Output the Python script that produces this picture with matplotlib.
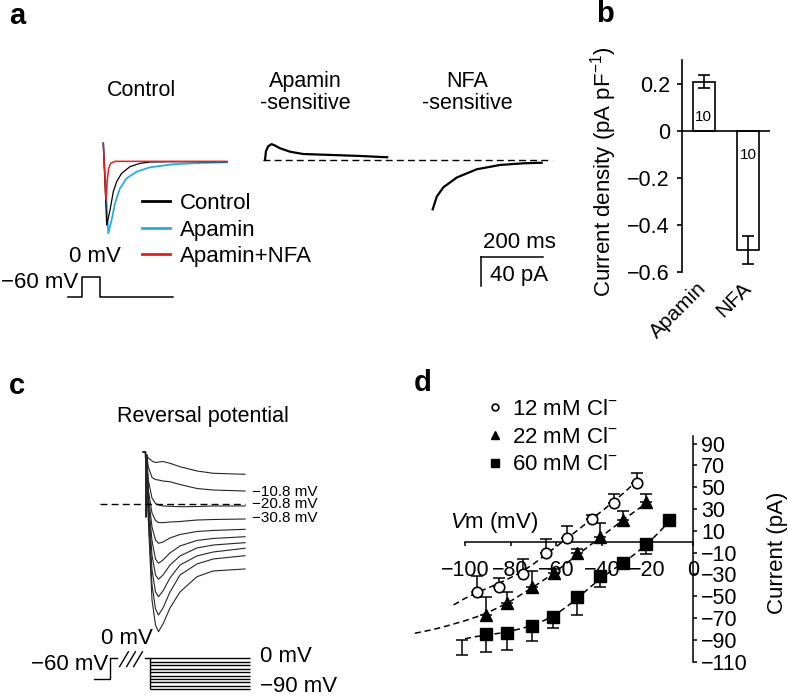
import matplotlib
matplotlib.use('Agg')
import matplotlib.pyplot as plt

W, H = 788, 699
plt.rcParams['font.family'] = ['Liberation Sans', 'DejaVu Sans']
plt.rcParams['mathtext.fontset'] = 'custom'
plt.rcParams['mathtext.rm'] = 'Liberation Sans'
plt.rcParams['mathtext.it'] = 'Liberation Sans:italic'
plt.rcParams['mathtext.bf'] = 'Liberation Sans:bold'

# ---------------- panel a : tail currents (ms, pA) ----------------
ctrl_t = [0, 10.9, 21.3, 31.9, 42.5, 58.4, 85, 117, 149, 222, 395]
ctrl_i = [25.6, -88, -67.6, -41.7, -27.8, -16.2, -6.9, -2.3, -0.4, 0, 0]
apa_t = [0, 16, 26.6, 37.2, 53.2, 74.5, 106.4, 149, 222, 308, 395]
apa_i = [25.6, -99.5, -81, -57.9, -37, -23, -13.9, -7.8, -3.6, -1.8, -0.8]
apanfa_t = [0, 8.6, 12.8, 17.2, 23.6, 37.3, 100, 395]
apanfa_i = [25.6, -53.2, -25.4, -9.2, -2.2, 0.5, 0.5, 0.5]
legend_a = ['Control', 'Apamin', 'Apamin+NFA']

apasens_t = [0, 3, 10, 21, 30, 48, 80, 122, 218, 303, 390]
apasens_i = [0, 12, 19, 22, 20.5, 16.3, 11.5, 8.3, 6.9, 5.6, 3.8]
nfasens_t = [0, 12.8, 33.8, 76.6, 140.4, 214.8, 289.2, 347.9]
nfasens_i = [-68.5, -51, -38, -24.4, -12.9, -6.9, -4.6, -3.8]

scale_ms, scale_pa = 200, 40

# voltage protocol a (ms, mV)
prot_a_t = [-43, 0, 0, 58, 58, 290]
prot_a_v = [-60, -60, 0, 0, -60, -60]

# ---------------- panel b ----------------
b_names = ['Apamin', 'NFA']
b_vals = [0.21, -0.505]
b_err = [0.027, 0.06]
b_n = ['10', '10']
b_yticks = [-0.6, -0.4, -0.2, 0, 0.2]
b_ylabels = ['\u22120.6', '\u22120.4', '\u22120.2', '0', '0.2']

# ---------------- panel c : reversal traces ----------------
c_t = [-8.6, -1.6, 0, 2.2, 7.4, 19.2, 30.4, 40, 54.4, 76.8, 108.8, 163, 215, 317]
c_head = [71.1, 70.7, -17.3, 66.6]
c_traces = [
    [62.6, 58.5, 56.4, 57.1, 57.8, 55.4, 50.7, 44.9, 41.8, 40.4],
    [50.7, 36, 33.3, 32.6, 31.3, 30.3, 26.5, 21.1, 19, 17.7],
    [32.6, 8.2, 0.7, -1.4, -2.7, -3.1, -3.7, -3.4, -2.7, -2.7],
    [19, -12.2, -22.4, -25.2, -25.4, -24.5, -23.8, -21.8, -21.1, -20.4],
    [12.2, -31.3, -49, -53.4, -51.7, -46.2, -41.5, -37.4, -36, -34.4],
    [5.4, -50.3, -74.8, -80.6, -76.2, -66.6, -57.1, -49.6, -46.9, -44.5],
    [-1.4, -69.4, -96.6, -102.4, -96.6, -83, -70.7, -59.8, -55.8, -52.6],
    [-8.2, -89.8, -119.7, -126.1, -118.3, -100.6, -83, -70.7, -65.3, -60.2],
    [-15, -110.2, -142.8, -151, -141.4, -119.7, -96.6, -81.6, -74.8, -70.3],
    [-21.8, -130.6, -164.6, -173.7, -163.2, -141.4, -119.7, -98.9, -91.1, -88.4],
]
c_marks = ['\u221210.8 mV', '\u221220.8 mV', '\u221230.8 mV']

# voltage protocol c (ms, mV)
prot_c_t = [-51, 0, 0, 21.4]
prot_c_v = [-60, -60, 0, 0]
c_pre_t = [112, 128]
c_levels = [0, -10, -20, -30, -40, -50, -60, -70, -80, -90]
c_step_on, c_step_end = 128, 448
c_breaks = [44.8, 67.2, 89.6]

# ---------------- panel d : I-V ----------------
x12 = [-94.9, -85, -74.7, -64.5, -55.1, -44.4, -34.5, -24.7]
y12 = [-45.9, -42, -30, -10.7, 3.1, 20.5, 35.2, 54.1]
e12 = [14, 8.4, 13.8, 12.9, 11.3, 4, 8.6, 9.2]
x22 = [-90.8, -81.5, -70.8, -60.8, -50.9, -40.8, -30.8, -20.4]
y22 = [-67.3, -56.6, -41.3, -28.7, -10.3, 4.4, 20.2, 36.2]
e22 = [16.3, 10.6, 14.7, 4, 4, 12.8, 7.6, 7.9]
x60 = [-90.8, -81.5, -70.8, -61.3, -50.8, -41, -30.7, -20.6, -10.4]
y60 = [-84.7, -84, -77.4, -69.4, -50.5, -31.7, -19.7, -1.8, 20.3]
e60 = [16.3, 15.4, 13.4, 10.1, 16.8, 9.5, 5, 9.3, 3]
stray_x, stray_y, stray_e = [-101.5], [-90], [14]

fit12_x = [-105, -100, -95, -90, -85, -80, -75, -70, -65, -60, -55, -50, -45, -40, -35, -30, -25]
fit12_y = [-58, -52, -47, -42.5, -38, -33, -27.5, -20.5, -12.5, -4.5, 3.5, 11.5, 20, 28, 36.5, 45.5, 55]
fit22_x = [-122, -115, -110, -105, -100, -95, -90, -85, -80, -75, -70, -65, -60, -55, -50, -45,
           -40, -35, -30, -25, -20]
fit22_y = [-84, -81, -78.5, -75.5, -72.5, -69, -65, -60, -54.5, -48, -41.5, -34.5, -27, -19, -11, -3,
           5, 13, 21, 28.5, 36]
fit60_x = [-100, -95, -90, -85, -80, -75, -70, -65, -60, -55, -50, -45, -40, -35, -30, -25, -20, -15, -10]
fit60_y = [-89, -87, -85.5, -84, -82, -79.5, -76.5, -72, -66.5, -59, -50.5, -41.5, -33, -25.5, -18.5,
           -10.5, -2, 8.5, 19.5]
legend_d = ['12 mM Cl$^{-}$', '22 mM Cl$^{-}$', '60 mM Cl$^{-}$']
d_xticks = [-100, -80, -60, -40, -20, 0]
d_yticks = [-110, -90, -70, -50, -30, -10, 10, 30, 50, 70, 90]

FS = 16      # general text
FT = 15.5    # panel titles
FK = 15      # tick labels

fig = plt.figure(figsize=(W / 100, H / 100), dpi=100)


def px_axes(x0, y0, xlim, ylim, sx, sy, off=True):
    # (x0, y0): pixel of data origin, sx/sy: pixels per data unit
    left = x0 + xlim[0] * sx
    right = x0 + xlim[1] * sx
    top = y0 - ylim[1] * sy
    bottom = y0 - ylim[0] * sy
    ax = fig.add_axes([left / W, 1 - bottom / H, (right - left) / W, (bottom - top) / H])
    ax.set_xlim(xlim)
    ax.set_ylim(ylim)
    ax.patch.set_alpha(0)
    if off:
        ax.axis('off')
    return ax


def ptext(x, y, s, **kw):
    kw.setdefault('fontsize', FS)
    kw.setdefault('ha', 'center')
    kw.setdefault('va', 'center')
    fig.text(x / W, 1 - y / H, s, **kw)


# panel letters
for lx, ly, s in [(17, 16, 'a'), (605, 14, 'b'), (17, 386, 'c'), (423, 383, 'd')]:
    ptext(lx, ly, s, fontsize=21, fontweight='bold')

# ---- a ----
ax = px_axes(103.3, 161.7, (-10, 420), (-110, 35), 0.3133, 0.72)
l_apa, = ax.plot(apa_t, apa_i, color='#29abe2', lw=1.3)
l_ctrl, = ax.plot(ctrl_t, ctrl_i, color='black', lw=0.9)
l_nfa, = ax.plot(apanfa_t, apanfa_i, color='#e3201b', lw=1.1)
leg = ax.legend([l_ctrl, l_apa, l_nfa], legend_a, loc='upper left',
                bbox_to_anchor=(141.7 / W, 1 - 193 / H), bbox_transform=fig.transFigure,
                frameon=False, fontsize=FS, handlelength=1.28, handletextpad=0.45,
                labelspacing=0.25, borderpad=0, borderaxespad=0)
for ln in leg.get_lines():
    ln.set_linewidth(2.0)

ax = px_axes(265, 160, (-10, 930), (-80, 30), 0.3133, 0.72)
ax.plot(apasens_t, apasens_i, color='black', lw=1.6)
ax.hlines(0, -6.4, 916, colors='black', lw=1.0, linestyles=(0, (5, 3)))
ax = px_axes(432.7, 160, (-10, 360), (-80, 30), 0.3133, 0.72)
ax.plot(nfasens_t, nfasens_i, color='black', lw=1.6)

ax = px_axes(480.7, 257.3, (-10, 210), (-45, 5), 0.3133, 0.72)
ax.plot([0, scale_ms], [0, 0], color='black', lw=1.1)
ax.plot([0, 0], [0, -scale_pa], color='black', lw=1.1)
ptext(519, 242, '200 ms')
ptext(519, 276, '40 pA')

ptext(141.7, 91, 'Control', fontsize=FT)
ptext(305, 92.5, 'Apamin\n-sensitive', fontsize=FT, linespacing=1.1)
ptext(467, 92.5, 'NFA\n-sensitive', fontsize=FT, linespacing=1.1)

ax = px_axes(81.7, 276.7, (-50, 300), (-70, 10), 0.3133, 0.333)
ax.plot(prot_a_t, prot_a_v, color='black', lw=1.1)
ptext(78.5, 282.7, '\u221260 mV', ha='right')
ptext(95, 256.7, '0 mV')

# ---- b ----
axb = px_axes(681.7, 131, (0, 1), (-0.6, 0.3), 88.3, 235.5, off=False)
bx = [0.25, 0.75]
axb.bar(bx, b_vals, width=0.25, color='white', edgecolor='black', lw=1.2, zorder=2)
axb.errorbar(bx, b_vals, yerr=b_err, fmt='none', ecolor='black', elinewidth=1.2,
             capsize=4.5, capthick=1.2, zorder=3)
axb.axhline(0, color='black', lw=1.2, zorder=4)
for xv, v, n in zip(bx, b_vals, b_n):
    axb.text(xv, 0.06 if v > 0 else -0.1, n, ha='center', va='center', fontsize=11)
for s in ['top', 'right', 'bottom']:
    axb.spines[s].set_visible(False)
axb.spines['left'].set_bounds(-0.6, 0.3)
axb.spines['left'].set_linewidth(1.2)
axb.set_yticks(b_yticks)
axb.set_yticklabels(b_ylabels)
axb.tick_params(axis='y', direction='out', length=3.6, width=1.2, pad=5, labelsize=FK + 0.5)
axb.set_xticks(bx)
axb.set_xticklabels(b_names, rotation=45, ha='right', va='center', rotation_mode='anchor')
axb.tick_params(axis='x', length=0, pad=9, labelsize=FK)
ptext(604, 172, 'Current density (pA pF$^{-1}$)', rotation=90)

# ---- c ----
ax = px_axes(146, 504, (-170, 370), (-190, 80), 0.3125, 0.735)
for tr in c_traces:
    ax.plot(c_t, c_head + tr, color='#262626', lw=0.8)
ax.hlines(0, -147, 317, colors='black', lw=1.0, linestyles=(0, (5, 3)), zorder=3)
ptext(203.3, 416.7, 'Reversal potential', fontsize=FT)
for yy, s in zip([491.7, 504.5, 518.3], c_marks):
    ptext(251.5, yy, s, ha='left', fontsize=11)

ax = px_axes(110, 658.3, (-60, 460), (-100, 30), 0.3125, 0.344)
ax.plot(prot_c_t, prot_c_v, color='black', lw=1.0)
ax.plot(c_pre_t, [0, 0], color='black', lw=1.0)
ax.hlines(c_levels, c_step_on, c_step_end, colors='black', lw=1.0)
ax.vlines(c_step_on, c_levels[-1], c_levels[0], colors='black', lw=1.0)
for cb in c_breaks:
    ax.plot([cb - 14, cb + 14], [-24, 19], color='black', lw=1.0)
ptext(108, 664, '\u221260 mV', ha='right')
ptext(126.5, 638.3, '0 mV')
ptext(260, 656.7, '0 mV', ha='left')
ptext(260, 686.7, '\u221290 mV', ha='left')

# ---- d ----
axd = px_axes(693, 541.7, (-125, 5), (-115, 100), 2.28, 1.09, off=False)
dash = (0, (4, 2.5))
axd.plot(fit12_x, fit12_y, color='black', lw=1.1, ls=dash, zorder=2)
axd.plot(fit22_x, fit22_y, color='black', lw=1.1, ls=dash, zorder=2)
axd.plot(fit60_x, fit60_y, color='black', lw=1.1, ls=dash, zorder=2)
z12 = [0] * len(e12)
z22 = [0] * len(e22)
z60 = [0] * len(e60)
eb = dict(fmt='none', ecolor='black', elinewidth=1.1, capsize=4.5, capthick=1.1, zorder=3)
axd.errorbar(x12, y12, yerr=[z12, e12], **eb)
axd.errorbar(x22, y22, yerr=[z22, e22], **eb)
axd.errorbar(x60, y60, yerr=[e60, z60], **eb)
axd.errorbar(stray_x, stray_y, yerr=[stray_e, [0]], **eb)
m12, = axd.plot(x12, y12, 'o', ms=7.5, mfc='white', mec='black', mew=1.2, zorder=4)
m22, = axd.plot(x22, y22, '^', ms=9, color='black', zorder=4)
m60, = axd.plot(x60, y60, 's', ms=8, color='black', zorder=4)
for s in ['left', 'top']:
    axd.spines[s].set_visible(False)
axd.spines['bottom'].set_position(('data', 0))
axd.spines['bottom'].set_bounds(-100, 0)
axd.spines['right'].set_position(('data', 0))
axd.spines['right'].set_bounds(-110, 97)
for s in ['bottom', 'right']:
    axd.spines[s].set_linewidth(1.1)
axd.yaxis.tick_right()
axd.set_xticks(d_xticks)
axd.set_yticks(d_yticks)
axd.tick_params(axis='x', direction='out', length=3, width=1.1, pad=10, labelsize=FK + 0.5)
axd.tick_params(axis='y', direction='out', length=3, width=1.1, pad=3, labelsize=FK + 0.5)
legd = axd.legend([m12, m22, m60], legend_d, loc='upper left',
                  bbox_to_anchor=(488.7 / W, 1 - 399 / H), bbox_transform=fig.transFigure,
                  frameon=False, fontsize=FS, handlelength=0.6, handletextpad=0.45,
                  labelspacing=0.3, borderpad=0, borderaxespad=0, markerscale=0.65, numpoints=1)
ptext(450, 522.7, '$V$m (mV)', ha='left')
ptext(778, 553, 'Current (pA)', rotation=90)

fig.savefig('out.png', dpi=100)
